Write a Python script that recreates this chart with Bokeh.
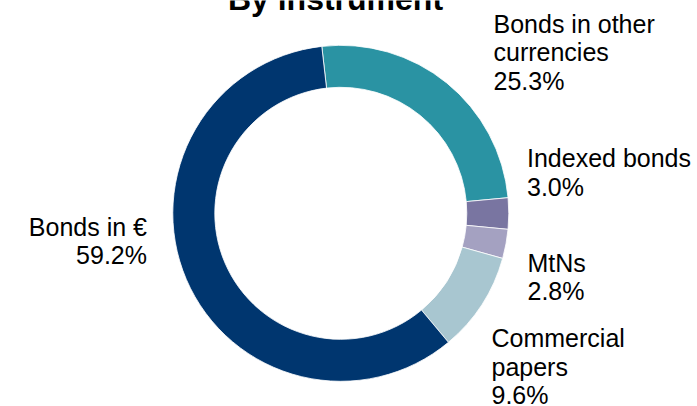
from math import pi
from bokeh.plotting import figure
from bokeh.models import Range1d, ColumnDataSource
from bokeh.core.properties import value
from bokeh.embed import file_html
from bokeh.resources import INLINE

# ---- data (clockwise order starting near 12 o'clock) ----
categories = ["Bonds in other\ncurrencies", "Indexed bonds", "MtNs", "Commercial\npapers", "Bonds in €"]
shares = [25.3, 3.0, 2.8, 9.6, 59.2]
colors = ["#2A93A3", "#7975A1", "#A4A1C1", "#A8C6D0", "#00366F"]
title_text = "By instrument"

# ---- layout ----
W, H = 697, 406
cx, cy = 340.3, H - 212.8
r_in, r_out = 126, 168
start_offset_deg = -6.5  # clockwise from 12 o'clock

p = figure(width=W, height=H, output_backend="svg", toolbar_location=None,
           x_range=Range1d(0, W), y_range=Range1d(0, H), min_border=0)
p.axis.visible = False
p.grid.visible = False
p.outline_line_color = None
p.background_fill_color = "white"

total = sum(shares)
starts, ends = [], []
acc = start_offset_deg
for s in shares:
    th1 = acc
    th2 = acc + s / total * 360.0
    # convert clockwise-from-top to counter-clockwise-from-x
    starts.append((90 - th2) * pi / 180)
    ends.append((90 - th1) * pi / 180)
    acc = th2

src = ColumnDataSource(dict(x=[cx] * len(shares), y=[cy] * len(shares),
                            start=starts, end=ends, color=colors))
p.annular_wedge(x="x", y="y", inner_radius=r_in, outer_radius=r_out,
                start_angle="start", end_angle="end", fill_color="color",
                line_color="white", line_width=0.8, source=src)

# label anchors (screen px: x, first baseline y, align)
anchors = [(493.0, 23.0, "left"), (526.5, 157.5, "left"), (527.0, 262.0, "left"),
           (491.0, 337.5, "left"), (146.5, 226.0, "right")]
line_gap = 28.5
font = value("Liberation Sans")

for cat, s, (ax, ay, al) in zip(categories, shares, anchors):
    lines = cat.split("\n") + [f"{s:.1f}%"]
    ys = [H - (ay + i * line_gap) for i in range(len(lines))]
    p.text(x=[ax] * len(lines), y=ys, text=lines, text_font=font,
           text_font_size="25px", text_color="#000000", text_align=al,
           text_baseline="alphabetic")

p.text(x=[335], y=[H + 2.0], text=[title_text], text_font=font,
       text_font_size="32px", text_font_style="bold", text_color="#000000",
       text_align="center", text_baseline="alphabetic")

open("out.html", "w").write(file_html(p, INLINE))
